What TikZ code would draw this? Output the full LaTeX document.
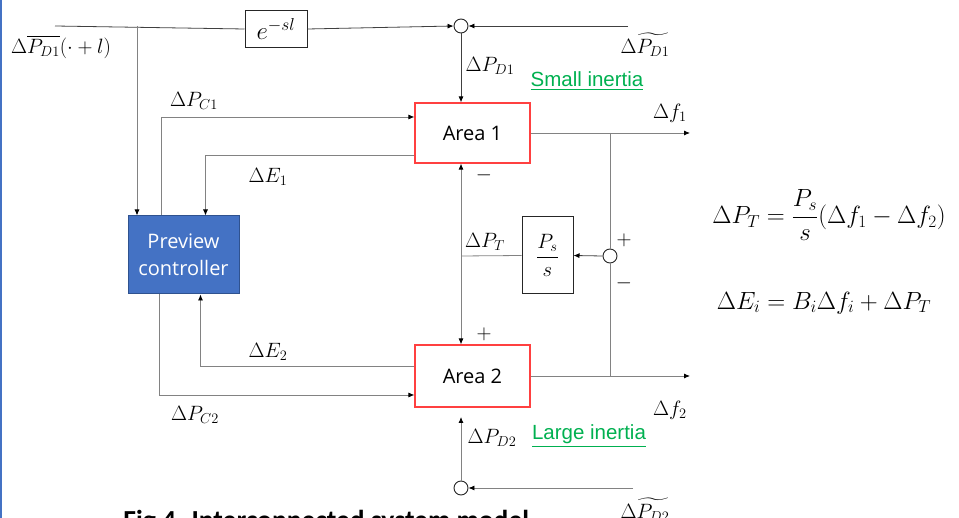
\documentclass[tikz,border=0pt]{standalone}
\usepackage{amsmath}
\usepackage{fontspec}
\setsansfont{Open Sans}
\newfontfamily\arialfont{Liberation Sans}
\newfontfamily\capfont{Carlito}
\usepackage{tikz}
\usetikzlibrary{arrows.meta, positioning}
\definecolor{ctrlblue}{RGB}{68,114,196}
\definecolor{ctrledge}{RGB}{47,82,143}
\definecolor{areared}{RGB}{255,64,64}
\definecolor{inertgreen}{RGB}{0,176,80}
\definecolor{wiregray}{RGB}{130,130,130}

\begin{document}
\begin{tikzpicture}[x=1pt, y=-1pt, line width=0.8pt, >={Latex[length=6pt, width=5pt, color=black]},
    wire/.style={draw=wiregray},
    darkwire/.style={draw=black!75},
    block/.style={draw=black!85, line width=1pt, inner sep=0pt},
    area/.style={draw=areared, line width=1.2pt, fill=white, minimum width=115pt, font=\sffamily\fontsize{20}{22}\selectfont},
    sumpt/.style={circle, draw=black!85, line width=0.9pt, fill=white, minimum size=14pt, inner sep=0pt},
    lbl/.style={inner sep=0pt, font=\fontsize{20}{22}\selectfont},
    sign/.style={inner sep=0pt, font=\sffamily\fontsize{22}{22}\selectfont},
    inert/.style={inner sep=0pt, text=inertgreen, font=\arialfont\fontsize{20.5}{22}\selectfont}]
        \useasboundingbox (0,0) rectangle (959,518);
        \draw[ctrlblue, line width=2pt] (1,0) -- (1,518);

        % Nodes
        \node[block, minimum width=62pt, minimum height=37pt, font=\fontsize{23}{25}\selectfont] (delay) at (276,29) {$e^{-sl}$};
        \node[sumpt] (sumA) at (461,26) {};
        \node[area, minimum height=60pt] (area1) at (472.5,133) {Area 1};
        \node[area, minimum height=62pt] (area2) at (472.5,376) {Area 2};
        \node[fill=ctrlblue, draw=ctrledge, line width=1pt, text=white, align=center, minimum width=111pt, minimum height=78pt,
              font=\sffamily\fontsize{20}{27}\selectfont] (ctrl) at (183.5,255) {Preview\\controller};
        \node[block, minimum width=51pt, minimum height=77pt, font=\fontsize{20}{22}\selectfont] (gain) at (547.5,255.5) {$\dfrac{P_s}{s}$};
        \node[sumpt] (sumM) at (610,256) {};
        \node[sumpt] (sumB) at (461,488) {};

        \coordinate (inD1) at (55,26);
        \coordinate (brA) at (137,26);
        \coordinate (inD1r) at (628,26);
        \coordinate (inD2) at (633,488);
        \coordinate (pD2) at (461,417);
        \coordinate (tie) at (461,256);
        \coordinate (outf1) at (690,133);
        \coordinate (outf2) at (690,376);
        \coordinate (tapf1) at (610,133);
        \coordinate (tapf2) at (610,376);

        % Labels
        \node[lbl] (lDbar) at (61,47) {$\Delta\overline{P_{D1}}(\cdot+l)$};
        \node[lbl] (lDt1) at (645,45) {$\Delta\widetilde{P_{D1}}$};
        \node[lbl] (lPD1) at (490,66) {$\Delta P_{D1}$};
        \node[inert] (small) at (587,81) {\underline{Small inertia}};
        \node[lbl] (lPC1) at (194,101) {$\Delta P_{C1}$};
        \node[lbl] (lE1) at (268,177) {$\Delta E_1$};
        \node[sign] (mA) at (484,175) {$-$};
        \node[lbl] (lPT) at (485,242) {$\Delta P_T$};
        \node[sign] (pM) at (624,240) {$+$};
        \node[sign] (mM) at (624,283) {$-$};
        \node[sign] (pA) at (484,334) {$+$};
        \node[lbl] (lE2) at (268,352) {$\Delta E_2$};
        \node[lbl] (lPC2) at (195,415) {$\Delta P_{C2}$};
        \node[lbl] (lf1) at (670,113) {$\Delta f_1$};
        \node[lbl] (lf2) at (670,410) {$\Delta f_2$};
        \node[lbl] (lPD2) at (492,438) {$\Delta P_{D2}$};
        \node[inert] (large) at (589,436) {\underline{Large inertia}};
        \node[lbl] (lDt2) at (645,510) {$\Delta\widetilde{P_{D2}}$};
        \node[inner sep=0pt, font=\fontsize{26.5}{29}\selectfont] (eqPT) at (829,215) {$\Delta P_T=\dfrac{P_s}{s}(\Delta f_1-\Delta f_2)$};
        \node[inner sep=0pt, font=\fontsize{26.5}{29}\selectfont] (eqE) at (824,303) {$\Delta E_i=B_i\Delta f_i+\Delta P_T$};
        \node[inner sep=0pt, anchor=north west, font=\capfont\bfseries\fontsize{27.5}{30}\selectfont] (cap) at (123,510) {Fig 4. Interconnected system model};

        % Directed edges
        \draw[darkwire] (inD1) -- (delay.west);
        \draw[darkwire, ->] (delay.east) -- (sumA.west);
        \draw[darkwire, ->] (inD1r) -- (sumA.east);
        \draw[darkwire, ->] (sumA.south) -- (area1.north -| sumA);
        \draw[wire, ->] (brA) -- (brA |- ctrl.north);
        \draw[wire, ->] ([xshift=-22pt]ctrl.north) |- ([yshift=16pt]area1.west);
        \draw[wire, ->] ([yshift=-22pt]area1.west) -| ([xshift=22pt]ctrl.north);
        \draw[wire, ->] ([yshift=10pt]area2.west) -| ([xshift=17pt]ctrl.south);
        \draw[wire, ->] ([xshift=-24pt]ctrl.south) |- ([yshift=-19pt]area2.west);
        \draw[wire, ->] (area1.east) -- (outf1);
        \draw[wire, ->] (area2.east) -- (outf2);
        \draw[wire] (tapf1) -- (sumM.north);
        \draw[wire] (sumM.south) -- (tapf2);
        \draw[darkwire, ->] (sumM.west) -- (gain.east);
        \draw[wire] (gain.west) -- (tie);
        \draw[wire, <->] (tie |- area1.south) -- (tie |- area2.north);
        \draw[wire, ->] (sumB.north) -- (pD2);
        \draw[wire, ->] (inD2) -- (sumB.east);
    \end{tikzpicture}
\end{document}
